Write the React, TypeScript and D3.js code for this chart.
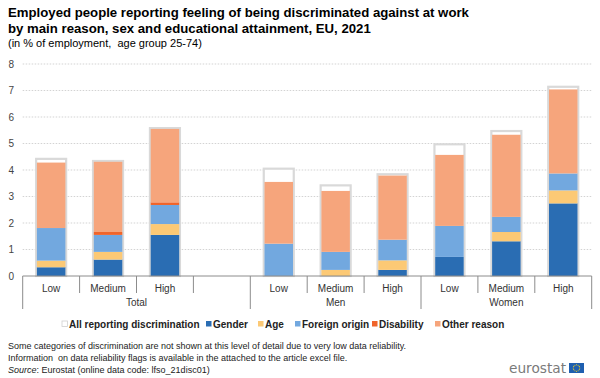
import React from "react";
import * as d3 from "d3";

const categories = ["Low", "Medium", "High", "", "Low", "Medium", "High", "Low", "Medium", "High"];
const groups = [
  { label: "Total", start: 0, end: 4 },
  { label: "Men", start: 4, end: 7 },
  { label: "Women", start: 7, end: 10 },
];
const allReporting = [4.42, 4.34, 5.58, null, 4.05, 3.42, 3.84, 4.97, 5.47, 7.14];
const gender = [0.33, 0.62, 1.55, null, 0, 0, 0.23, 0.72, 1.31, 2.74];
const age = [0.25, 0.29, 0.41, null, 0, 0.23, 0.36, 0, 0.35, 0.49];
const foreignOrigin = [1.23, 0.64, 0.72, null, 1.22, 0.68, 0.78, 1.17, 0.57, 0.64];
const disability = [0, 0.11, 0.1, null, 0, 0, 0, 0, 0, 0];
const otherReason = [2.47, 2.65, 2.77, null, 2.33, 2.3, 2.42, 2.68, 3.1, 3.17];
const yTicks = [0, 1, 2, 3, 4, 5, 6, 7, 8];

const seriesDefs = [
  { name: "Gender", values: gender, color: "#2a6db3" },
  { name: "Age", values: age, color: "#fcc975" },
  { name: "Foreign origin", values: foreignOrigin, color: "#72a8df" },
  { name: "Disability", values: disability, color: "#f0642a" },
  { name: "Other reason", values: otherReason, color: "#f6a57c" },
];

const legendItems = [
  { name: "All reporting discrimination", color: "#ffffff", stroke: "#cfcfcf", x: 62 },
  { name: "Gender", color: "#2a6db3", x: 206 },
  { name: "Age", color: "#fcc975", x: 258 },
  { name: "Foreign origin", color: "#72a8df", x: 295 },
  { name: "Disability", color: "#f0642a", x: 372 },
  { name: "Other reason", color: "#f6a57c", x: 435 },
];

const FONT = "Liberation Sans, Arial, sans-serif";

export default function App() {
  const W = 600, H = 378;
  const x0 = 22.7, x1 = 591.7, yTop = 64, yBot = 276;
  const x = d3.scaleBand<number>().domain(d3.range(categories.length)).range([x0, x1]).paddingInner(0).paddingOuter(0);
  const y = d3.scaleLinear().domain([0, 8]).range([yBot, yTop]);
  const bw = x.bandwidth();
  const innerW = 28.5;
  const outerW = 30;

  const stackData = categories.map((_, i) => {
    const row: any = { i };
    seriesDefs.forEach((s) => (row[s.name] = s.values[i] ?? 0));
    return row;
  });
  const stack = d3.stack<any>().keys(seriesDefs.map((s) => s.name))(stackData);

  const boundaries = d3.range(categories.length + 1).map((k) => x0 + k * bw);
  const longIdx = new Set([0, 4, 7, 10]);

  return (
    <svg width={W} height={H} style={{ position: "absolute", left: 0, top: 0, background: "#fff" }} fontFamily={FONT}>
      <text x={8} y={17} fontSize={13.2} fontWeight="bold" fill="#000">
        Employed people reporting feeling of being discriminated against at work
      </text>
      <text x={8} y={33} fontSize={13.2} fontWeight="bold" fill="#000">
        by main reason, sex and educational attainment, EU, 2021
      </text>
      <text x={8} y={47} fontSize={11} fill="#000">
        {"(in % of employment,\u00a0 age group 25-74)"}
      </text>

      {yTicks.map((t) => (
        <g key={t}>
          {t > 0 && (
            <line x1={x0} x2={x1} y1={y(t)} y2={y(t)} stroke="#c8c8c8" strokeWidth={0.8} strokeDasharray="1.5,1.5" />
          )}
          <text x={14} y={y(t) + 3.5} fontSize={10} fill="#444" textAnchor="end">
            {t}
          </text>
        </g>
      ))}

      {categories.map((c, i) =>
        allReporting[i] == null ? null : (
          <rect
            key={"all" + i}
            x={(x(i) as number) + bw / 2 - outerW / 2}
            y={y(allReporting[i] as number)}
            width={outerW}
            height={yBot - y(allReporting[i] as number)}
            fill="#fff"
            stroke="#d9d9d9"
            strokeWidth={2.2}
          />
        )
      )}

      {stack.map((layer, si) => (
        <g key={layer.key} fill={seriesDefs[si].color}>
          {layer.map((d, i) =>
            d[1] - d[0] > 0 ? (
              <rect
                key={i}
                x={(x(i) as number) + bw / 2 - innerW / 2}
                y={y(d[1])}
                width={innerW}
                height={y(d[0]) - y(d[1])}
              />
            ) : null
          )}
        </g>
      ))}

      <line x1={x0} x2={x1} y1={yBot} y2={yBot} stroke="#8c8c8c" strokeWidth={1} />
      {boundaries.map((bx, k) => (
        <line key={k} x1={bx} x2={bx} y1={yBot} y2={longIdx.has(k) ? 309 : 293} stroke="#8c8c8c" strokeWidth={1} />
      ))}
      {categories.map((c, i) => (
        <text key={"c" + i} x={(x(i) as number) + bw / 2} y={292} fontSize={10} fill="#333" textAnchor="middle">
          {c}
        </text>
      ))}
      {groups.map((g) => (
        <text key={g.label} x={(boundaries[g.start] + boundaries[g.end]) / 2} y={305.5} fontSize={10} fill="#333" textAnchor="middle">
          {g.label}
        </text>
      ))}

      {legendItems.map((l) => (
        <g key={l.name}>
          <rect x={l.x} y={321} width={5.5} height={5.5} fill={l.color} stroke={l.stroke || "none"} strokeWidth={0.8} />
          <text x={l.x + 7} y={327.5} fontSize={10} fontWeight="bold" fill="#222">
            {l.name}
          </text>
        </g>
      ))}

      <text x={8} y={349} fontSize={9} fill="#222">
        Some categories of discrimination are not shown at this level of detail due to very low data reliability.
      </text>
      <text x={8} y={361} fontSize={9} fill="#222">
        {"Information\u00a0 on data reliability flags is available in the attached to the article excel file."}
      </text>
      <text x={8} y={373} fontSize={9} fill="#222">
        <tspan fontStyle="italic">Source</tspan>: Eurostat (online data code: lfso_21disc01)
      </text>

      <text x={509} y={372.5} fontSize={14.5} fill="#7a7a7a" fontFamily="DejaVu Sans, sans-serif" textLength={57} lengthAdjust="spacingAndGlyphs">
        eurostat
      </text>
      <rect x={569} y={363} width={15} height={10} fill="#1f5fb0" />
      {d3.range(12).map((k) => {
        const a = (k / 12) * Math.PI * 2;
        return <circle key={k} cx={576.5 + 3.2 * Math.cos(a)} cy={368 + 3.2 * Math.sin(a)} r={0.55} fill="#ffd617" />;
      })}
    </svg>
  );
}
